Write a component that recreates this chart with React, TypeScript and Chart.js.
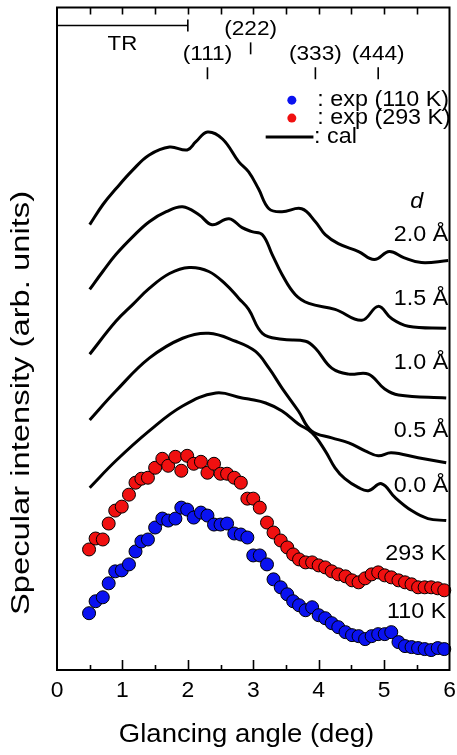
import React, { useEffect, useRef } from "react";
import { Chart, registerables } from "chart.js";

Chart.register(...registerables);

// ---- Experimental data (glancing angle in deg, intensity in arb. units) ----
const expAngle = [
  0.49, 0.59, 0.70, 0.79, 0.89, 0.99, 1.10, 1.20, 1.29, 1.39, 1.50, 1.61, 1.70, 1.81,
  1.90, 1.99, 2.09, 2.20, 2.30, 2.40, 2.50, 2.60, 2.71, 2.81, 2.91, 3.00, 3.10, 3.21,
  3.31, 3.42, 3.52, 3.61, 3.70, 3.80, 3.90, 4.00, 4.10, 4.20, 4.30, 4.41, 4.51, 4.61,
  4.71, 4.81, 4.91, 5.01, 5.11, 5.22, 5.32, 5.42, 5.52, 5.62, 5.72, 5.82, 5.92,
];
const exp293K = [
  121, 132, 131, 147, 160, 164, 176, 188, 192, 193, 203, 212, 205, 214,
  200, 215, 207, 209, 198, 207, 197, 197, 193, 188, 172, 172, 163, 148,
  138, 130, 123, 116, 111, 108, 108, 105, 103, 99, 96, 94, 90, 88,
  92, 96, 98, 95, 93, 90, 88, 86, 83, 83, 83, 82, 80,
];
const exp110K = [
  57, 69, 73, 87, 99, 100, 106, 119, 129, 131, 143, 152, 150, 152,
  163, 161, 153, 158, 155, 146, 146, 147, 137, 136, 133, 115, 115, 106,
  91, 83, 76, 69, 65, 60, 63, 55, 52, 47, 43, 38, 35, 34,
  31, 34, 36, 36, 38, 28, 24, 23, 22, 21, 20, 22, 21,
];

// ---- Calculated curves for several d ----
const cal20Angle = [0.50, 0.70, 0.90, 1.16, 1.41, 1.72, 1.99, 2.12, 2.30, 2.53, 2.78, 2.93, 3.08, 3.24, 3.44, 3.74, 3.95, 4.10, 4.30, 4.61, 4.85, 5.08, 5.30, 5.57, 5.98];
const cal20 = [447, 467, 483, 502, 517, 525, 522, 530, 540, 533, 510, 500, 483, 463, 460, 463, 450, 437, 428, 420, 412, 420, 414, 409, 411];

const cal15Angle = [0.50, 0.70, 0.90, 1.16, 1.41, 1.67, 1.92, 2.17, 2.37, 2.63, 2.83, 2.98, 3.14, 3.29, 3.44, 3.64, 3.85, 4.25, 4.66, 4.91, 5.11, 5.37, 5.95];
const cal15 = [382, 400, 417, 435, 450, 460, 465, 457, 447, 453, 444, 440, 437, 417, 397, 377, 368, 362, 351, 365, 353, 345, 343];

const cal10Angle = [0.50, 0.90, 1.16, 1.41, 1.72, 2.02, 2.32, 2.58, 2.78, 2.93, 3.14, 3.44, 3.80, 3.95, 4.20, 4.46, 4.76, 5.01, 5.22, 5.95];
const cal10 = [317, 350, 367, 383, 398, 404, 400, 387, 373, 362, 338, 332, 330, 323, 303, 297, 297, 282, 276, 273];

const cal05Angle = [0.50, 0.90, 1.41, 1.92, 2.32, 2.73, 3.03, 3.24, 3.44, 3.69, 3.89, 4.20, 4.46, 4.71, 4.91, 5.11, 5.52, 5.95];
const cal05 = [251, 280, 313, 333, 338, 330, 320, 303, 283, 260, 240, 233, 228, 220, 215, 218, 213, 208];

const cal00Angle = [0.50, 0.90, 1.41, 1.92, 2.43, 2.83, 2.93, 3.19, 3.44, 3.69, 3.90, 4.10, 4.25, 4.40, 4.61, 4.76, 4.96, 5.17, 5.42, 5.67, 5.95];
const cal00 = [183, 210, 240, 265, 278, 273, 272, 268, 260, 247, 238, 220, 203, 192, 183, 180, 187, 173, 160, 152, 150];

// ---- Text ----
const xTickLabels = ["0", "1", "2", "3", "4", "5", "6"];
const xTickValues = [0, 1, 2, 3, 4, 5, 6];
const braggLabels = ["(111)", "(222)", "(333)", "(444)"];
const braggAngles = [2.30, 2.96, 3.95, 4.91];
const curveLabels = ["2.0 Å", "1.5 Å", "1.0 Å", "0.5 Å", "0.0 Å", "293 K", "110 K"];
const legendLabels = [": exp (110 K)", ": exp (293 K)", ": cal"];

const FONT = "'Liberation Sans', Arial, Helvetica, sans-serif";
const BLUE = "#0a12f0";
const RED = "#f01010";

function pts(xs: number[], ys: number[]) {
  return xs.map((x, i) => ({ x, y: ys[i] }));
}

const decorations = {
  id: "decorations",
  afterDatasetsDraw(chart: any) {
    const ctx = chart.ctx as CanvasRenderingContext2D;
    const ca = chart.chartArea;
    const xs = chart.scales.x;
    const ys = chart.scales.y;
    const X = (v: number) => xs.getPixelForValue(v);
    const Y = (v: number) => ys.getPixelForValue(v);

    ctx.save();
    ctx.strokeStyle = "#000";
    ctx.fillStyle = "#000";

    // frame
    ctx.lineWidth = 2;
    ctx.strokeRect(ca.left, ca.top, ca.right - ca.left, ca.bottom - ca.top);

    // ticks (inside), bottom and top
    ctx.lineWidth = 1.6;
    for (let v = 0.5; v < 6; v += 0.5) {
      const major = Math.abs(v - Math.round(v)) < 1e-6;
      const px = Math.round(X(v)) + 0.5;
      ctx.beginPath();
      ctx.moveTo(px, ca.bottom);
      ctx.lineTo(px, ca.bottom - (major ? 10 : 5));
      ctx.moveTo(px, ca.top);
      ctx.lineTo(px, ca.top + 7);
      ctx.stroke();
    }

    const text = (
      s: string,
      x: number,
      y: number,
      align: CanvasTextAlign,
      font: string,
      sx = 1.06,
      rot = 0
    ) => {
      ctx.save();
      ctx.translate(x, y);
      if (rot) ctx.rotate(rot);
      ctx.scale(sx, 1);
      ctx.font = font;
      ctx.textAlign = align;
      ctx.textBaseline = "middle";
      ctx.fillStyle = "#000";
      ctx.fillText(s, 0, 0);
      ctx.restore();
    };

    // x tick labels
    xTickLabels.forEach((t, i) => text(t, X(xTickValues[i]), 691, "center", `22px ${FONT}`, 1.04));

    // axis titles
    text("Glancing angle (deg)", 246.5, 735, "center", `25px ${FONT}`, 1.1);
    text("Specular intensity (arb. units)", 22, 403, "center", `26px ${FONT}`, 1.26, -Math.PI / 2);

    // TR bracket
    ctx.lineWidth = 1.6;
    ctx.beginPath();
    ctx.moveTo(X(0), Y(647));
    ctx.lineTo(X(2), Y(647));
    ctx.moveTo(X(2), Y(653));
    ctx.lineTo(X(2), Y(641));
    ctx.stroke();
    text("TR", X(1), Y(628), "center", `21px ${FONT}`);

    // Bragg positions
    braggLabels.forEach((lab, i) => {
      const hi = i === 1;
      const px = X(braggAngles[i]);
      ctx.beginPath();
      ctx.moveTo(px, Y(hi ? 630 : 605));
      ctx.lineTo(px, Y(hi ? 618 : 593));
      ctx.stroke();
      text(lab, px, Y(hi ? 643 : 618), "center", `21px ${FONT}`, 1.08);
    });

    // legend
    const legY = [572, 554, 535];
    [BLUE, RED].forEach((c, i) => {
      ctx.beginPath();
      ctx.arc(X(3.59), Y(legY[i]), 4.5, 0, Math.PI * 2);
      ctx.fillStyle = c;
      ctx.fill();
    });
    ctx.fillStyle = "#000";
    ctx.lineWidth = 3;
    ctx.beginPath();
    ctx.moveTo(X(3.19), Y(legY[2]));
    ctx.lineTo(X(3.92), Y(legY[2]));
    ctx.stroke();
    text(legendLabels[0], X(3.98), Y(legY[0]), "left", `22px ${FONT}`);
    text(legendLabels[1], X(3.98), Y(legY[1]), "left", `22px ${FONT}`);
    text(legendLabels[2], X(3.93), Y(legY[2]), "left", `22px ${FONT}`);

    // d label and curve labels
    text("d", X(5.50), Y(470), "center", `italic 22px ${FONT}`);
    const labY = [437, 372, 308, 240, 185, 117, 58];
    curveLabels.forEach((lab, i) => {
      text(lab, X(i < 5 ? 5.98 : 5.95), Y(labY[i]), "right", `22px ${FONT}`);
    });

    ctx.restore();
  },
};

export default function App() {
  const ref = useRef<HTMLCanvasElement | null>(null);

  useEffect(() => {
    if (!ref.current) return;
    const lineStyle = {
      type: "line" as const,
      showLine: true,
      borderColor: "#000",
      borderWidth: 3,
      pointRadius: 0,
      tension: 0.4,
      fill: false,
      clip: false as any,
    };
    const chart = new Chart(ref.current, {
      type: "scatter",
      data: {
        datasets: [
          { ...lineStyle, label: "2.0 Å", data: pts(cal20Angle, cal20) },
          { ...lineStyle, label: "1.5 Å", data: pts(cal15Angle, cal15) },
          { ...lineStyle, label: "1.0 Å", data: pts(cal10Angle, cal10) },
          { ...lineStyle, label: "0.5 Å", data: pts(cal05Angle, cal05) },
          { ...lineStyle, label: "0.0 Å", data: pts(cal00Angle, cal00) },
          {
            label: "exp (293 K)",
            data: pts(expAngle, exp293K),
            backgroundColor: RED,
            borderColor: "#000",
            borderWidth: 1,
            pointRadius: 6.5,
            clip: false as any,
          },
          {
            label: "exp (110 K)",
            data: pts(expAngle, exp110K),
            backgroundColor: BLUE,
            borderColor: "#000",
            borderWidth: 1,
            pointRadius: 6.5,
            clip: false as any,
          },
        ] as any,
      },
      options: {
        responsive: false,
        animation: false,
        layout: { padding: { left: 57, right: 5, top: 5, bottom: 85 } },
        scales: {
          x: { type: "linear", min: 0, max: 6, display: false },
          y: { type: "linear", min: 0, max: 665, display: false },
        },
        plugins: { legend: { display: false }, tooltip: { enabled: false } },
        events: [],
      },
      plugins: [decorations],
    });
    return () => chart.destroy();
  }, []);

  return (
    <div style={{ position: "fixed", left: 0, top: 0, width: 457, height: 755, background: "#fff" }}>
      <canvas ref={ref} width={457} height={755} style={{ width: 457, height: 755 }} />
    </div>
  );
}
